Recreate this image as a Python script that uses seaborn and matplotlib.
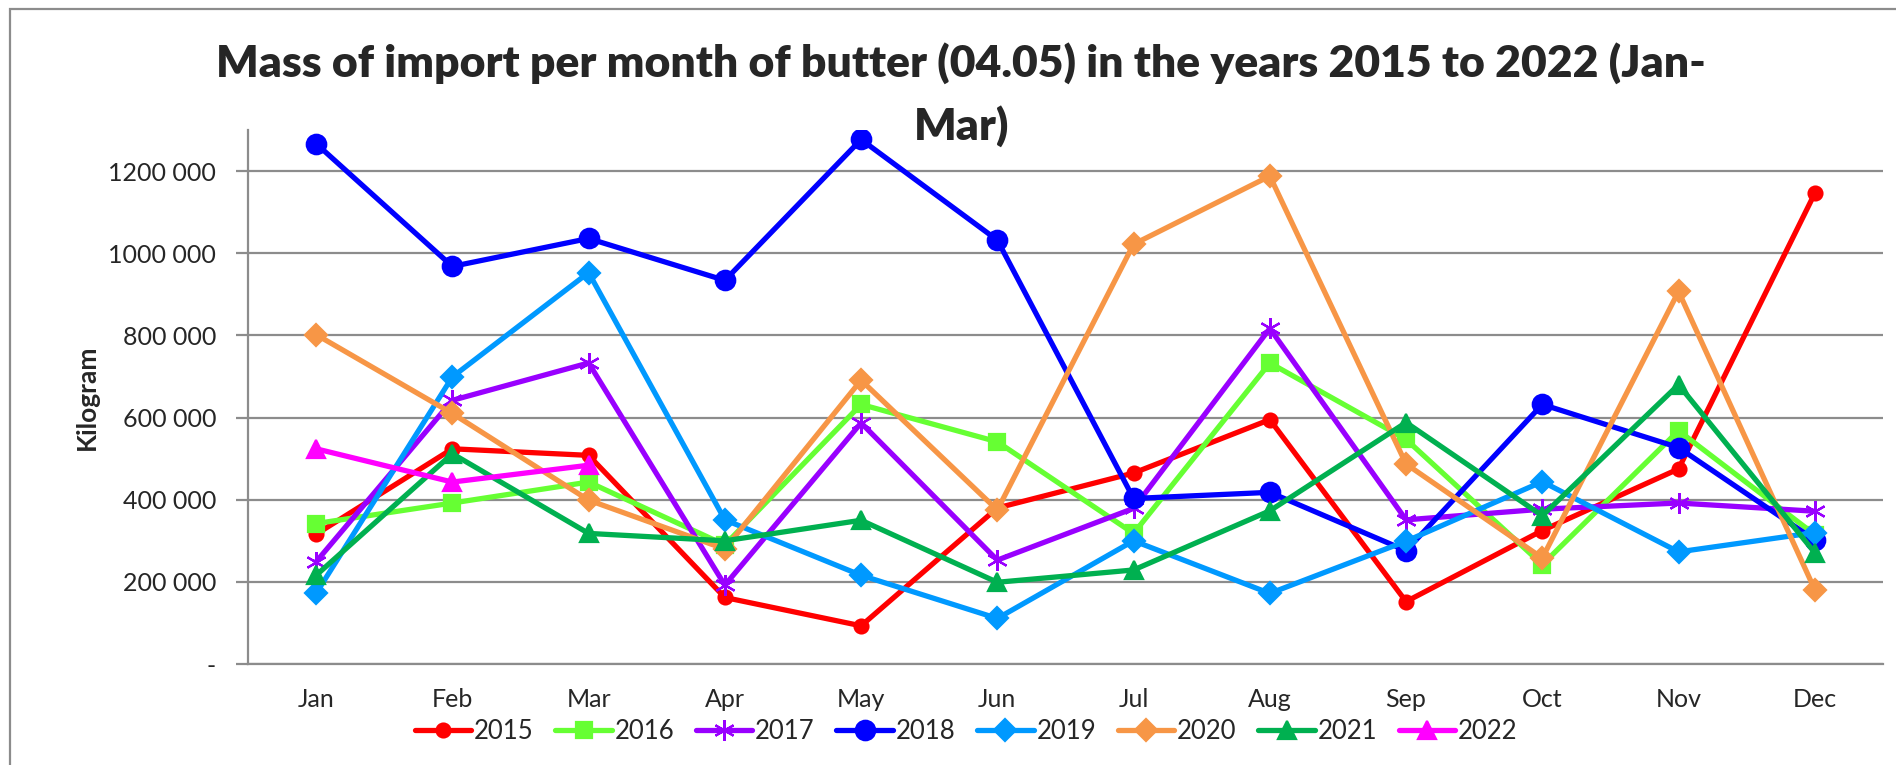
import numpy as np
import pandas as pd
import matplotlib
matplotlib.use("Agg")
import matplotlib.pyplot as plt
import seaborn as sns
from matplotlib.ticker import FuncFormatter, FixedLocator

# Data (kg per month)
months = ['Jan', 'Feb', 'Mar', 'Apr', 'May', 'Jun', 'Jul', 'Aug', 'Sep', 'Oct', 'Nov', 'Dec']
kg_2015 = [316000, 524000, 508000, 162000, 93000, 380000, 465000, 595000, 152000, 325000, 475000, 1146000]
kg_2016 = [342000, 392000, 443000, 290000, 632000, 541000, 318000, 733000, 547000, 242000, 568000, 315000]
kg_2017 = [249000, 642000, 733000, 192000, 587000, 253000, 379000, 817000, 351000, 377000, 392000, 372000]
kg_2018 = [1267000, 968000, 1036000, 934000, 1277000, 1032000, 403000, 418000, 276000, 632000, 527000, 302000]
kg_2019 = [172000, 699000, 953000, 351000, 216000, 111000, 300000, 172000, 299000, 444000, 273000, 320000]
kg_2020 = [802000, 610000, 399000, 280000, 691000, 375000, 1022000, 1188000, 487000, 258000, 907000, 181000]
kg_2021 = [216000, 512000, 318000, 300000, 350000, 199000, 229000, 373000, 588000, 361000, 680000, 271000]
kg_2022 = [524000, 443000, 484000]

series = {2015: kg_2015, 2016: kg_2016, 2017: kg_2017, 2018: kg_2018,
          2019: kg_2019, 2020: kg_2020, 2021: kg_2021, 2022: kg_2022}

rows = []
for year, vals in series.items():
    for i, v in enumerate(vals):
        rows.append({'year': year, 'pos': i, 'month': months[i], 'kg': v})
df = pd.DataFrame(rows)

# Style per year: colour, marker, marker size
styles = {
    2015: ('#FF0000', 'o', 10),
    2016: ('#66FF33', 's', 12),
    2017: ('#9900FF', (6, 2, 0), 15),
    2018: ('#0000FF', 'o', 14),
    2019: ('#0099FF', 'D', 11),
    2020: ('#F79646', 'D', 11),
    2021: ('#00B050', '^', 13),
    2022: ('#FF00FF', '^', 13),
}

sns.set_style("white")
plt.rcParams['font.family'] = ['Lato', 'DejaVu Sans']

fig = plt.figure(figsize=(18.96, 7.65), dpi=100)
ax = fig.add_axes([0.1308, 0.132, 0.8623, 0.698])

for year in series:
    color, marker, ms = styles[year]
    sub = df[df['year'] == year]
    sns.lineplot(data=sub, x='pos', y='kg', ax=ax, color=color, marker=marker,
                 markersize=ms, markeredgecolor=color, markeredgewidth=1.6,
                 linewidth=3.8, sort=False, errorbar=None, label=str(year))

ax.set_xlim(-0.5, 11.5)
ax.set_ylim(0, 1300000)

# y axis
ax.yaxis.set_major_locator(FixedLocator(np.arange(0, 1300001, 200000)))
ax.yaxis.set_major_formatter(FuncFormatter(
    lambda v, p: '-' if v == 0 else f"{int(v // 1000)} 000"))
ax.grid(axis='y', color='#8C8C8C', linewidth=1.6)
ax.grid(axis='x', visible=False)
ax.set_axisbelow(True)

# x axis: labels at centres, tick marks between categories
ax.set_xticks(range(len(months)))
ax.set_xticklabels(months)
ax.set_xticks(np.arange(-0.5, 12, 1), minor=True)
ax.tick_params(axis='x', which='major', length=0, pad=17, labelsize=18)
ax.tick_params(axis='x', which='minor', length=9, width=1.6, color='#8C8C8C', direction='out')
ax.tick_params(axis='y', which='major', length=9, width=1.6, color='#8C8C8C',
               direction='out', pad=14, labelsize=18, left=True)

for side in ['top', 'right']:
    ax.spines[side].set_visible(False)
for side in ['left', 'bottom']:
    ax.spines[side].set_color('#8C8C8C')
    ax.spines[side].set_linewidth(1.6)

ax.set_xlabel('')
ax.set_ylabel('Kilogram', fontsize=19, fontweight='bold', labelpad=7)

fig.text(0.507, 0.945,
         'Mass of import per month of butter (04.05) in the years 2015 to 2022 (Jan-\nMar)',
         ha='center', va='top', fontsize=32, fontweight='heavy', linespacing=1.6)

ax.legend(loc='center', bbox_to_anchor=(0.5095, 0.044), bbox_transform=fig.transFigure,
          ncol=8, frameon=False, fontsize=18.5, handlelength=2.2, handletextpad=0.1,
          columnspacing=0.85)

# outer chart frame
fig.patches.append(plt.Rectangle((0.0055, -0.05), 1.2, 1.038, transform=fig.transFigure,
                                 fill=False, edgecolor='#8C8C8C', linewidth=1.6))

fig.savefig('out.png', dpi=100)
